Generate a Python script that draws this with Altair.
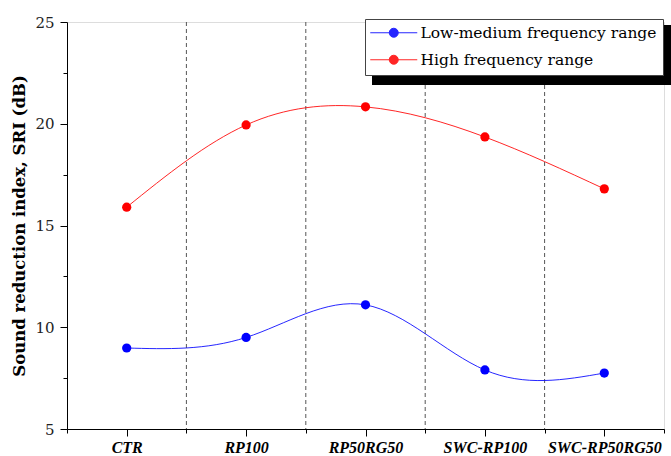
import json
import altair as alt
import pandas as pd

categories = ["CTR", "RP100", "RP50RG50", "SWC-RP100", "SWC-RP50RG50"]
low_medium = [8.98, 9.5, 11.1, 7.9, 7.75]
high = [15.9, 19.94, 20.83, 19.35, 16.8]
series_names = ["Low-medium frequency range", "High frequency range"]
series_colors = ["#0000FF", "#FF0000"]
y_ticks = [5, 7.5, 10, 12.5, 15, 17.5, 20, 22.5, 25]

FONT = "DejaVu Serif"
XFONT = "Liberation Serif"
W, H = 597, 407

rows = []
for i, c in enumerate(categories):
    rows.append({"idx": i, "cat": c, "series": series_names[0], "val": low_medium[i]})
    rows.append({"idx": i, "cat": c, "series": series_names[1], "val": high[i]})
df = pd.DataFrame(rows)

bounds = pd.DataFrame({"b": [i + 0.5 for i in range(len(categories) - 1)]})
x_vals = [i * 0.5 - 0.5 for i in range(2 * len(categories) + 1)]
cat_expr = json.dumps(categories)

x_scale = alt.Scale(domain=[-0.5, len(categories) - 0.5], nice=False, zero=False)
y_scale = alt.Scale(domain=[5, 25], nice=False, zero=False)

x_axis = alt.Axis(
    values=x_vals,
    labelExpr=f"datum.value % 1 === 0 ? {cat_expr}[datum.value] : ''",
    title=None,
    grid=False,
    domainColor="black",
    tickColor="black",
    tickSize={"condition": {"test": "datum.value % 1 === 0", "value": 7}, "value": 4},
    labelFont=XFONT,
    labelFontSize=16,
    labelFontWeight="bold",
    labelFontStyle="italic",
    labelColor="black",
    labelPadding=3,
    labelFlush=False,
    labelOverlap=False,
    labelLimit=300,
)
y_axis = alt.Axis(
    values=y_ticks,
    labelExpr="datum.value % 5 === 0 ? datum.label : ''",
    title="Sound reduction index, SRI (dB)",
    grid=False,
    domainColor="black",
    tickColor="black",
    tickSize={"condition": {"test": "datum.value % 5 === 0", "value": 7}, "value": 4},
    labelFont=FONT,
    labelFontSize=15,
    labelColor="#222",
    labelPadding=6,
    labelOverlap=False,
    titleFont=FONT,
    titleFontSize=16.5,
    titleFontWeight="bold",
    titleColor="black",
    titlePadding=7,
)

color = alt.Color(
    "series:N",
    scale=alt.Scale(domain=series_names, range=series_colors),
    legend=alt.Legend(
        title=None,
        orient="none",
        legendX=298,
        legendY=-3,
        fillColor="white",
        strokeColor="#444",
        padding=6,
        symbolType="M-4.7,0H4.7M-0.9,0A0.9,0.9 0 1,1 0.9,0A0.9,0.9 0 1,1 -0.9,0Z",
        symbolSize=100,
        symbolStrokeWidth=1,
        symbolOffset=15,
        labelOffset=19,
        labelFont=FONT,
        labelFontSize=15.5,
        labelColor="black",
        labelLimit=400,
        rowPadding=10,
    ),
)

shadow = alt.Chart(pd.DataFrame({"k": [0]})).mark_rect(color="black").encode(
    x=alt.value(305), x2=alt.value(606), y=alt.value(3), y2=alt.value(63)
)

rules = alt.Chart(bounds).mark_rule(color="#555", strokeDash=[4, 3], strokeWidth=1).encode(
    x=alt.X("b:Q", scale=x_scale, axis=x_axis),
    y=alt.value(0),
    y2=alt.value(H),
)

base = alt.Chart(df).encode(
    x=alt.X("idx:Q", scale=x_scale, axis=x_axis),
    y=alt.Y("val:Q", scale=y_scale, axis=y_axis),
    color=color,
)
lines = base.mark_line(interpolate="natural", strokeWidth=1, opacity=0.85)
points = base.mark_point(filled=True, size=85, opacity=1)

chart = alt.layer(rules, lines, points, shadow).properties(
    width=W,
    height=H,
    autosize=alt.AutoSizeParams(type="none"),
    padding={"left": 67, "top": 22, "right": 7, "bottom": 27},
).configure_view(stroke=None).configure(background="white")

chart.save("out.html", embed_options={"renderer": "svg", "actions": False})
